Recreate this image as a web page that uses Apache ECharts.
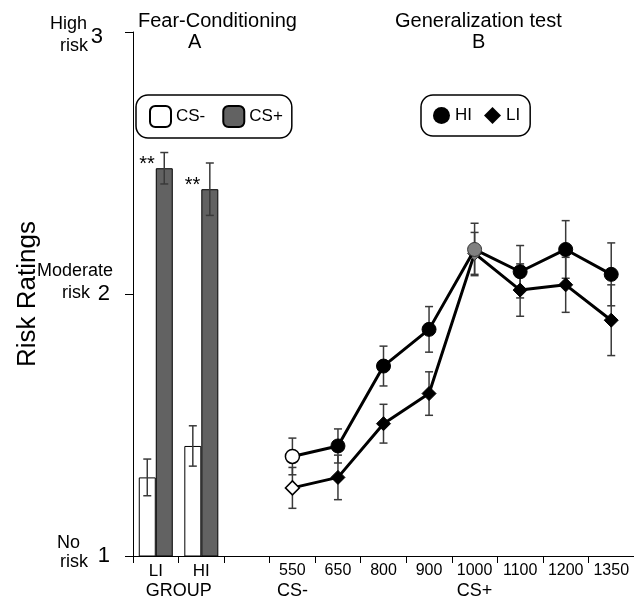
<!DOCTYPE html>
<html>
<head>
<meta charset="utf-8">
<script src="https://cdn.jsdelivr.net/npm/echarts@6/dist/echarts.min.js"></script>
<style>
  html, body { margin: 0; padding: 0; background: #fff; }
  #chart { width: 634px; height: 602px; }
</style>
</head>
<body>
<div id="chart"></div>
<script>
// x slots: two groups for the bars, a blank gap, then the test stimuli
var categories = ['LI', 'HI', '', '550', '650', '800', '900', '1000', '1100', '1200', '1350'];
var lineCats = ['550', '650', '800', '900', '1000', '1100', '1200', '1350'];

// panel A (bars)
var csMinus = [1.30, 1.42];
var csMinusErr = [0.07, 0.077];
var csPlus = [2.48, 2.40];
var csPlusErr = [0.06, 0.10];
var sigLabels = ['**', '**'];

// panel B (lines)
var hiMeans = [1.38, 1.42, 1.725, 1.865, 2.17, 2.085, 2.17, 2.075];
var hiErr = [0.07, 0.065, 0.076, 0.087, 0.10, 0.10, 0.11, 0.12];
var liMeans = [1.26, 1.30, 1.505, 1.62, 2.155, 2.015, 2.035, 1.90];
var liErr = [0.078, 0.085, 0.074, 0.083, 0.08, 0.10, 0.105, 0.135];

var yWords = { 1: ['No', 'risk'], 2: ['Moderate', 'risk'], 3: ['High', 'risk'] };

var FONT = '"Liberation Sans", Arial, sans-serif';

function errorBars(offset) {
  return function (params, api) {
    var c = api.value(0), m = api.value(1), e = api.value(2);
    var top = api.coord([c, m + e]);
    var bot = api.coord([c, m - e]);
    var x = top[0] + offset;
    var st = { stroke: '#3a3a3a', lineWidth: 1.5 };
    return {
      type: 'group',
      children: [
        { type: 'line', shape: { x1: x, y1: top[1], x2: x, y2: bot[1] }, style: st },
        { type: 'line', shape: { x1: x - 4, y1: top[1], x2: x + 4, y2: top[1] }, style: st },
        { type: 'line', shape: { x1: x - 4, y1: bot[1], x2: x + 4, y2: bot[1] }, style: st }
      ]
    };
  };
}

function markerStyle(i) {
  if (i === 0) return { color: '#fff', borderColor: '#000', borderWidth: 1.5 };
  if (i === 4) return { color: '#808080', borderColor: '#333', borderWidth: 1 };
  return { color: '#000', borderColor: '#000', borderWidth: 1 };
}

var chart = echarts.init(document.getElementById('chart'));
chart.setOption({
  animation: false,
  textStyle: { fontFamily: FONT, color: '#000' },
  title: [
    { text: 'Fear-Conditioning', left: 133, top: 6, textStyle: { fontSize: 20, fontWeight: 'normal', color: '#000', fontFamily: FONT } },
    { text: 'A', left: 183, top: 27, textStyle: { fontSize: 20, fontWeight: 'normal', color: '#000', fontFamily: FONT } },
    { text: 'Generalization test', left: 390, top: 6, textStyle: { fontSize: 20, fontWeight: 'normal', color: '#000', fontFamily: FONT } },
    { text: 'B', left: 467, top: 27, textStyle: { fontSize: 20, fontWeight: 'normal', color: '#000', fontFamily: FONT } }
  ],
  legend: [
    {
      data: ['CS-', 'CS+'],
      left: 136, top: 95,
      itemWidth: 21, itemHeight: 21, itemGap: 17,
      padding: [10, 9, 10, 13],
      borderColor: '#000', borderWidth: 1.5, borderRadius: 12,
      textStyle: { fontSize: 17, color: '#000', fontFamily: FONT }
    },
    {
      data: [{ name: 'HI', icon: 'circle' }, { name: 'LI', icon: 'diamond' }],
      left: 421, top: 95,
      itemWidth: 17, itemHeight: 17, itemGap: 12,
      padding: [12, 10, 12, 12],
      borderColor: '#000', borderWidth: 1.5, borderRadius: 12,
      itemStyle: { color: '#000' },
      textStyle: { fontSize: 17, color: '#000', fontFamily: FONT }
    }
  ],
  grid: { left: 133, right: 0, top: 32, bottom: 46, outerBoundsMode: 'none' },
  xAxis: {
    type: 'category',
    data: categories,
    axisLine: { lineStyle: { color: '#000', width: 1 } },
    axisTick: { show: true, length: 7, interval: 0, lineStyle: { color: '#000' } },
    axisLabel: {
      interval: 0,
      margin: 6,
      color: '#000',
      formatter: function (v) {
        if (v === 'LI') return '{a|LI}\n{g|GROUP}';
        if (v === 'HI') return '{a|HI}';
        if (v === '550') return '{n|550}\n{c|CS-}';
        if (v === '1000') return '{n|1000}\n{c|CS+}';
        return v ? '{n|' + v + '}' : '';
      },
      rich: {
        a: { fontSize: 17, lineHeight: 18, fontFamily: FONT, color: '#000' },
        n: { fontSize: 16, lineHeight: 18, fontFamily: FONT, color: '#000' },
        g: { fontSize: 18, lineHeight: 22, fontFamily: FONT, color: '#000', padding: [0, 0, 0, 46] },
        c: { fontSize: 18, lineHeight: 22, fontFamily: FONT, color: '#000' }
      }
    },
    splitLine: { show: false }
  },
  yAxis: [
    {
      type: 'value',
      min: 1, max: 3, interval: 1,
      name: 'Risk Ratings',
      nameLocation: 'middle',
      nameGap: 92,
      nameTextStyle: { fontSize: 26, color: '#000', fontFamily: FONT },
      axisLine: { show: true, lineStyle: { color: '#000', width: 1 } },
      axisTick: { show: true, length: 8, lineStyle: { color: '#000' } },
      splitLine: { show: false },
      axisLabel: {
        margin: 23,
        color: '#000',
        formatter: function (v) { return v === 3 ? '{t|3}' : '{b|' + v + '}'; },
        rich: {
          b: { fontSize: 22, fontFamily: FONT, color: '#000' },
          t: { fontSize: 22, fontFamily: FONT, color: '#000', padding: [10, 7, 0, 0] }
        }
      }
    },
    {
      // second axis only carries the word labels left of the numbers
      type: 'value',
      position: 'left',
      min: 1, max: 3, interval: 1,
      axisLine: { show: false },
      axisTick: { show: false },
      splitLine: { show: false },
      axisLabel: {
        margin: 20,
        color: '#000',
        formatter: function (v) {
          var w = yWords[v];
          if (!w) return '';
          if (v === 3) return '{e6| }\n{s|' + w[0] + '}{h3|}\n{s|' + w[1] + '}{r|}';
          if (v === 2) return '{s|' + w[0] + '}\n{s|' + w[1] + '}{r2|}\n{e24| }';
          return '{s1|' + w[0] + '}{no|}\n{s1|' + w[1] + '}{r|}\n{e6| }';
        },
        rich: {
          s: { fontSize: 18, lineHeight: 22, fontFamily: FONT, color: '#000' },
          s1: { fontSize: 18, lineHeight: 19, fontFamily: FONT, color: '#000' },
          h3: { width: 26, lineHeight: 19 },
          r: { width: 25, lineHeight: 19 },
          r2: { width: 23, lineHeight: 19 },
          no: { width: 33, lineHeight: 19 },
          e6: { fontSize: 4, lineHeight: 6 },
          e24: { fontSize: 4, lineHeight: 24 }
        }
      }
    }
  ],
  series: [
    {
      name: 'CS-',
      type: 'bar',
      data: csMinus,
      barWidth: 17,
      barGap: '0%',
      clip: true,
      itemStyle: { color: '#fff', borderColor: '#000', borderWidth: 1 }
    },
    {
      name: 'CS+',
      type: 'bar',
      data: csPlus,
      barWidth: 17,
      barGap: '0%',
      clip: true,
      itemStyle: { color: '#626262', borderColor: '#000', borderWidth: 1 },
      label: {
        show: true,
        position: [-1, -4],
        align: 'right',
        verticalAlign: 'middle',
        fontSize: 20,
        fontFamily: FONT,
        color: '#000',
        formatter: function (p) { return sigLabels[p.dataIndex]; }
      }
    },
    {
      type: 'custom',
      renderItem: errorBars(-8.5),
      data: csMinus.map(function (v, i) { return [i, v, csMinusErr[i]]; }),
      z: 3
    },
    {
      type: 'custom',
      renderItem: errorBars(8.5),
      data: csPlus.map(function (v, i) { return [i, v, csPlusErr[i]]; }),
      z: 3
    },
    {
      type: 'custom',
      renderItem: errorBars(0),
      data: hiMeans.map(function (v, i) { return [i + 3, v, hiErr[i]]; }),
      z: 1
    },
    {
      type: 'custom',
      renderItem: errorBars(0),
      data: liMeans.map(function (v, i) { return [i + 3, v, liErr[i]]; }),
      z: 1
    },
    {
      name: 'LI',
      type: 'line',
      symbol: 'diamond',
      symbolSize: 14,
      z: 4,
      lineStyle: { color: '#000', width: 3 },
      itemStyle: { color: '#000' },
      data: liMeans.map(function (v, i) {
        return { value: [lineCats[i], v], itemStyle: markerStyle(i) };
      })
    },
    {
      name: 'HI',
      type: 'line',
      symbol: 'circle',
      symbolSize: 14,
      z: 5,
      lineStyle: { color: '#000', width: 3 },
      itemStyle: { color: '#000' },
      data: hiMeans.map(function (v, i) {
        return { value: [lineCats[i], v], itemStyle: markerStyle(i) };
      })
    }
  ]
});
</script>
</body>
</html>
